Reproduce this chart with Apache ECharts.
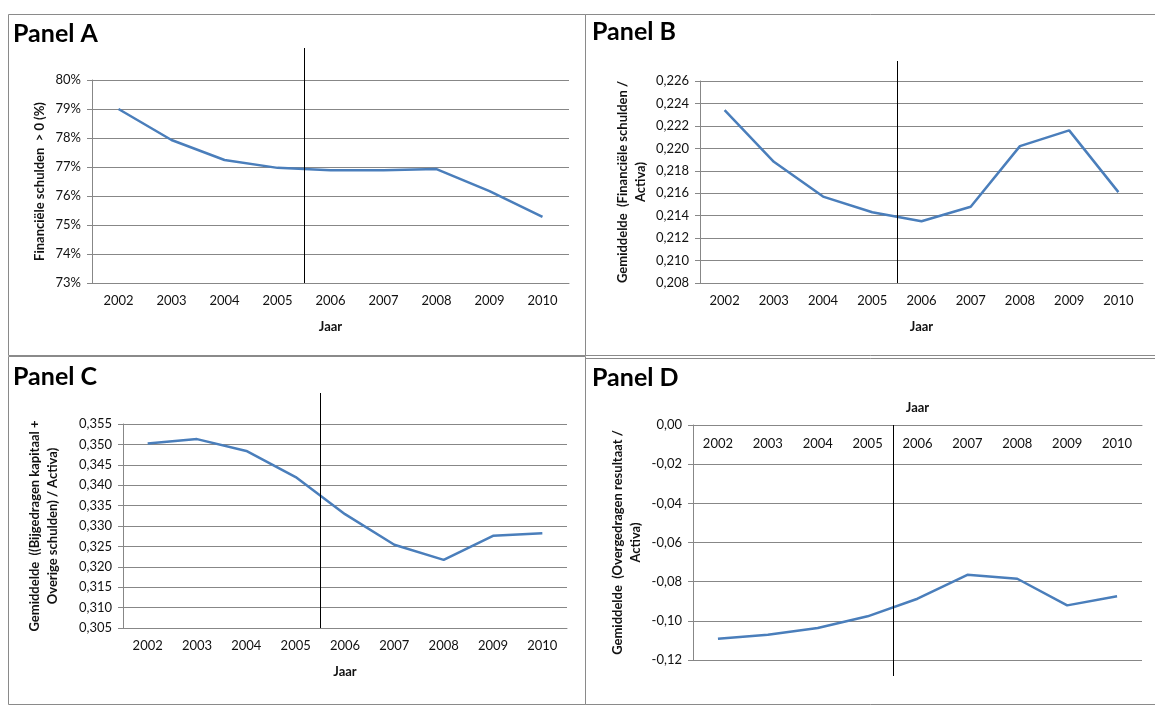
<!DOCTYPE html>
<html lang="nl">
<head>
<meta charset="utf-8">
<script src="https://cdn.jsdelivr.net/npm/echarts@6/dist/echarts.min.js"></script>
</head>
<body style="margin:0; background:#fff">
<div id="main" style="width:1155px; height:709px"></div>
<script>
// jaren op de x-as
var years = ['2002', '2003', '2004', '2005', '2006', '2007', '2008', '2009', '2010'];

// Panel A: financiele schulden > 0 (%)
var panelA = [79.0, 77.93, 77.24, 76.97, 76.89, 76.89, 76.93, 76.17, 75.28];
// Panel B: gemiddelde financiele schulden / activa
var panelB = [0.2234, 0.2188, 0.2157, 0.2143, 0.2135, 0.2148, 0.2202, 0.2216, 0.2161];
// Panel C: (bijgedragen kapitaal + overige schulden) / activa
var panelC = [0.3502, 0.3513, 0.3484, 0.3420, 0.3329, 0.3254, 0.3217, 0.3276, 0.3282];
// Panel D: overgedragen resultaat / activa
var panelD = [-0.1091, -0.1071, -0.1037, -0.0977, -0.0887, -0.0765, -0.0785, -0.0921, -0.0875];

// breuk tussen 2005 en 2006
var breakBefore = '2005', breakAfter = '2006';

var font = 'Lato, "Open Sans", sans-serif';
var gridCol = '#878787';
var lineCol = '#4A7EBB';

function comma(d) {
    return function (v) { return v.toFixed(d).replace('.', ','); };
}

function xAxisBottom(i) {
    return {
        type: 'category', gridIndex: i, data: years, boundaryGap: true,
        name: 'Jaar', nameLocation: 'middle', nameGap: 37,
        nameTextStyle: { fontFamily: font, fontWeight: 'bold', fontSize: 13, color: '#111' },
        axisLine: { lineStyle: { color: gridCol } },
        axisTick: { length: 5, lineStyle: { color: gridCol } },
        axisLabel: { margin: 11, fontFamily: font, fontSize: 13, color: '#111' }
    };
}

function yAxis(i, min, max, step, fmt, name, gap) {
    return {
        type: 'value', gridIndex: i, min: min, max: max, interval: step,
        name: name, nameLocation: 'middle', nameGap: gap, nameRotate: 90,
        nameTextStyle: { fontFamily: font, fontWeight: 'bold', fontSize: 13, color: '#111', lineHeight: 18, align: 'center' },
        axisLine: { show: true, lineStyle: { color: gridCol } },
        axisTick: { show: true, length: 5, lineStyle: { color: gridCol } },
        axisLabel: { margin: 11, fontFamily: font, fontSize: 13, color: '#111', formatter: fmt },
        splitLine: { lineStyle: { color: gridCol, width: 1 } }
    };
}

function lineSeries(i, data) {
    return {
        type: 'line', xAxisIndex: i, yAxisIndex: i, data: data,
        symbol: 'none', lineStyle: { color: lineCol, width: 2.5 }, animation: false
    };
}

var chart = echarts.init(document.getElementById('main'));

var xD = xAxisBottom(3);
xD.position = 'top';
xD.nameGap = 11;
xD.axisLine.onZero = false;
xD.axisTick.inside = true;
xD.axisLabel.inside = true;
xD.axisLabel.margin = 12;

function box(x, y, w, h) {
    return { type: 'rect', shape: { x: x, y: y, width: w, height: h },
        style: { fill: 'none', stroke: '#8a8a8a', lineWidth: 1 }, silent: true };
}

var boxes = [
    box(8.5, 14.5, 577, 341),
    box(585.5, 14.5, 575, 341),
    box(8.5, 356.5, 577, 348),
    box(585.5, 358.5, 575, 346)
];

chart.setOption({
    backgroundColor: '#fff',
    animation: false,
    graphic: boxes,
    title: [
        { text: 'Panel A', left: 13, top: 21 },
        { text: 'Panel B', left: 592, top: 19 },
        { text: 'Panel C', left: 13, top: 364 },
        { text: 'Panel D', left: 592, top: 365 }
    ].map(function (t) {
        t.padding = 0;
        t.textStyle = { fontFamily: font, fontWeight: 'bold', fontSize: 25, color: '#000' };
        return t;
    }),
    grid: [
        { left: 92, top: 80, width: 477, height: 203 },
        { left: 700, top: 81, width: 443, height: 202 },
        { left: 123, top: 424, width: 444, height: 204 },
        { left: 693, top: 425, width: 449, height: 235 }
    ],
    xAxis: [xAxisBottom(0), xAxisBottom(1), xAxisBottom(2), xD],
    yAxis: [
        yAxis(0, 73, 80, 1, function (v) { return v + '%'; }, 'Financiële schulden  > 0 (%)', 43),
        yAxis(1, 0.208, 0.226, 0.002, comma(3), 'Gemiddelde  (Financiële schulden /\nActiva)', 50),
        yAxis(2, 0.305, 0.355, 0.005, comma(3), 'Gemiddelde  ((Bijgedragen kapitaal +\nOverige schulden) / Activa)', 61),
        yAxis(3, -0.12, 0, 0.02, comma(2), 'Gemiddelde  (Overgedragen resultaat /\nActiva)', 48)
    ],
    series: [lineSeries(0, panelA), lineSeries(1, panelB), lineSeries(2, panelC), lineSeries(3, panelD)]
});

// verticale lijn op de grens tussen 2005 en 2006, via de as berekend
// [boven, onder] uiteinde per paneel; null = op de as
var breakEnds = [[48, null], [61, null], [393, null], [null, 676]];
var breakMins = [73, 0.208, 0.305, 0];
var lines = breakEnds.map(function (ends, i) {
    var a = chart.convertToPixel({ gridIndex: i }, [breakBefore, breakMins[i]]);
    var b = chart.convertToPixel({ gridIndex: i }, [breakAfter, breakMins[i]]);
    var x = Math.round((a[0] + b[0]) / 2) + 0.5;
    return { type: 'line', silent: true, z: 10,
        shape: { x1: x, y1: ends[0] != null ? ends[0] : a[1], x2: x, y2: ends[1] != null ? ends[1] : a[1] },
        style: { stroke: '#000', lineWidth: 1 } };
});
chart.setOption({ graphic: boxes.concat(lines) }, { replaceMerge: ['graphic'] });
</script>
</body>
</html>
